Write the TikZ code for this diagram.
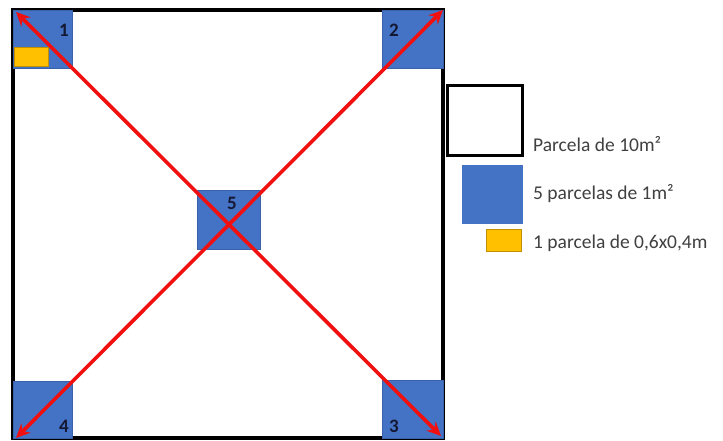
\documentclass[tikz,border=0pt]{standalone}
\usepackage{fontspec}
\setmainfont{Carlito}
\usetikzlibrary{arrows.meta}
\definecolor{offblue}{HTML}{4472C4}
\definecolor{offblueedge}{HTML}{3A62AA}
\definecolor{offyellow}{HTML}{FFC000}
\definecolor{yellowedge}{HTML}{C09000}
\definecolor{txtgray}{HTML}{404040}
\definecolor{numnavy}{HTML}{141833}
\definecolor{arrred}{HTML}{F01010}
\begin{document}
\begin{tikzpicture}[x=1pt,y=-1pt,
  bluebox/.style={draw=offblueedge,line width=0.6pt,fill=offblue,inner sep=0pt,minimum width=59pt,minimum height=58pt},
  yellowbox/.style={draw=yellowedge,line width=0.6pt,fill=offyellow,inner sep=0pt},
  numlabel/.style={font=\fontsize{19}{19}\selectfont\bfseries,text=numnavy,inner sep=0pt},
  legtext/.style={font=\fontsize{19.5}{22}\selectfont,text=txtgray,anchor=west,inner sep=0pt},
  redarrow/.style={draw=arrred,line width=3.6pt,{Stealth[length=14pt,width=13pt]}-{Stealth[length=14pt,width=13pt]}}
]
\useasboundingbox (0,0) rectangle (723,441);
\fill[white] (0,0) rectangle (723,441);
% main plot
\node[draw=black,line width=3.6pt,inner sep=0pt,minimum width=430pt,minimum height=428pt] (plot) at (228,224) {};
% small plots
\node[bluebox] (s1) at (42.5,39) {};
\node[bluebox,minimum width=61pt] (s2) at (412.5,39) {};
\node[bluebox,minimum width=61pt] (s3) at (412.5,409.5) {};
\node[bluebox,minimum height=57pt] (s4) at (42.5,409.5) {};
\node[bluebox,minimum width=63pt,minimum height=59pt] (s5) at (228.5,219.5) {};
\node[yellowbox,minimum width=34pt,minimum height=19pt] (y1) at (31,56.5) {};
% numbers
\node[numlabel] (n1) at (64,30) {1};
\node[numlabel] (n2) at (394,30) {2};
\node[numlabel] (n3) at (394,426) {3};
\node[numlabel] (n4) at (64,426) {4};
\node[numlabel] (n5) at (232,203) {5};
% diagonals
\coordinate (c1) at (16,12);
\coordinate (c2) at (443,10);
\coordinate (c3) at (441,436);
\coordinate (c4) at (16,438);
\draw[redarrow] (c1) -- (c3);
\draw[redarrow] (c4) -- (c2);
% legend
\node[draw=black,line width=2.2pt,fill=white,inner sep=0pt,minimum width=75pt,minimum height=70pt] (l1) at (485,120.5) {};
\node[fill=offblue,inner sep=0pt,minimum width=61pt,minimum height=59pt] (l2) at (492.5,194.5) {};
\node[yellowbox,minimum width=35pt,minimum height=22pt] (l3) at (503.5,240) {};
\node[legtext] (t1) at (533,144) {Parcela de 10m²};
\node[legtext] (t2) at (533,194) {5 parcelas de 1m²};
\node[legtext] (t3) at (533,243) {1 parcela de 0,6x0,4m};
\end{tikzpicture}
\end{document}
